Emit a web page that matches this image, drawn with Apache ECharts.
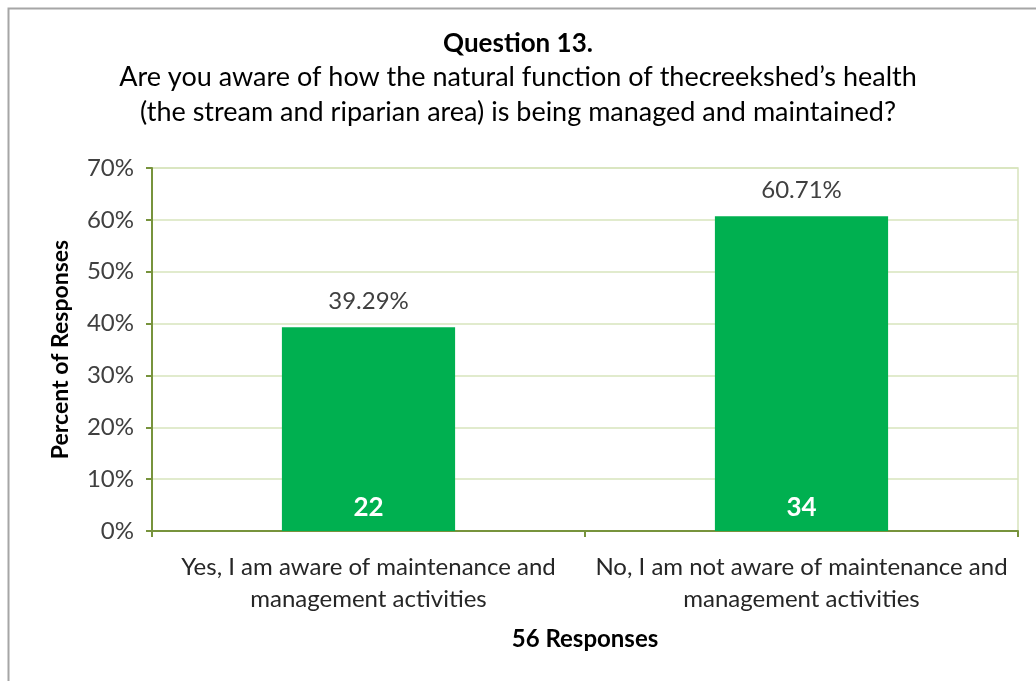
<!DOCTYPE html>
<html lang="en">
<head>
    <meta charset="UTF-8">
    <title>Question 13</title>
    <style>
      html, body { margin: 0; padding: 0; background: #fff; }
      #chart { width: 1036px; height: 681px; }
    </style>
</head>
<body>
<div id="chart"></div>
<script src="https://cdn.jsdelivr.net/npm/echarts@6/dist/echarts.min.js"></script>
<script type="text/javascript">
  const categories = [
    'Yes, I am aware of maintenance and\nmanagement activities',
    'No, I am not aware of maintenance and\nmanagement activities',
  ];
  const percents = [39.29, 60.71];
  const counts = [22, 34];
  const yTicks = [0, 10, 20, 30, 40, 50, 60, 70];

  const FONT = 'Lato';
  const barColor = '#00B050';
  const axisColor = '#77933C';
  const gridColor = '#D7E4BD';

  // 标题各行分开放，便于逐行居中
  const titleLines = [
    {text: 'Question 13.', top: 31, bold: true, size: 26},
    {text: 'Are you aware of how the natural function of thecreekshed\u2019s health', top: 64, bold: false, size: 27},
    {text: '(the stream and riparian area) is being managed and maintained?', top: 99, bold: false, size: 27},
  ];

  const option = {
    backgroundColor: '#fff',
    animation: false,
    graphic: [{
      type: 'rect',
      left: 6, top: 6,
      shape: {width: 1060, height: 700},
      style: {fill: 'none', stroke: '#a6a6a6', lineWidth: 2},
      silent: true,
    }],
    title: titleLines.map(t => ({
      text: t.text,
      left: 'center', top: t.top,
      padding: 0,
      textStyle: {fontFamily: FONT, fontSize: t.size, fontWeight: t.bold ? 'bold' : 'normal', color: '#000'},
    })),
    grid: {
      left: 152, right: 18, top: 168, bottom: 150,
      show: true, borderColor: gridColor, borderWidth: 1.5,
    },
    xAxis: {
      type: 'category',
      data: categories,
      name: '56 Responses',
      nameLocation: 'middle',
      nameGap: 96,
      nameTextStyle: {fontFamily: FONT, fontSize: 24, fontWeight: 'bold', color: '#000'},
      axisLine: {lineStyle: {color: axisColor, width: 2}},
      axisTick: {show: true, alignWithLabel: false, length: 6, lineStyle: {color: axisColor, width: 2}},
      axisLabel: {fontFamily: FONT, fontSize: 24, color: '#262626', lineHeight: 32, margin: 20, interval: 0},
      splitLine: {show: false},
    },
    yAxis: {
      type: 'value',
      min: yTicks[0],
      max: yTicks[yTicks.length - 1],
      interval: 10,
      name: 'Percent of Responses',
      nameLocation: 'middle',
      nameGap: 80,
      nameTextStyle: {fontFamily: FONT, fontSize: 23, fontWeight: 'bold', color: '#000'},
      axisLine: {show: true, lineStyle: {color: axisColor, width: 2}},
      axisTick: {show: true, length: 6, lineStyle: {color: axisColor, width: 2}},
      axisLabel: {fontFamily: FONT, fontSize: 24, color: '#404040', margin: 18, formatter: '{value}%'},
      splitLine: {show: true, lineStyle: {color: gridColor, width: 1.5}},
    },
    series: [{
      type: 'bar',
      data: percents,
      barWidth: '40%',
      itemStyle: {color: barColor},
      label: {
        show: true, position: 'top', distance: 14,
        fontFamily: FONT, fontSize: 24, color: '#404040',
        formatter: p => p.value.toFixed(2) + '%',
      },
    }, {
      type: 'bar',
      data: percents,
      barWidth: '40%',
      barGap: '-100%',
      itemStyle: {color: 'rgba(0,0,0,0)'},
      label: {
        show: true, position: 'insideBottom', distance: 10,
        fontFamily: FONT, fontSize: 26, fontWeight: 'bold', color: '#fff',
        formatter: p => String(counts[p.dataIndex]),
      },
    }],
  };

  const chart = echarts.init(document.getElementById('chart'));
  chart.setOption(option);
</script>
</body>
</html>
